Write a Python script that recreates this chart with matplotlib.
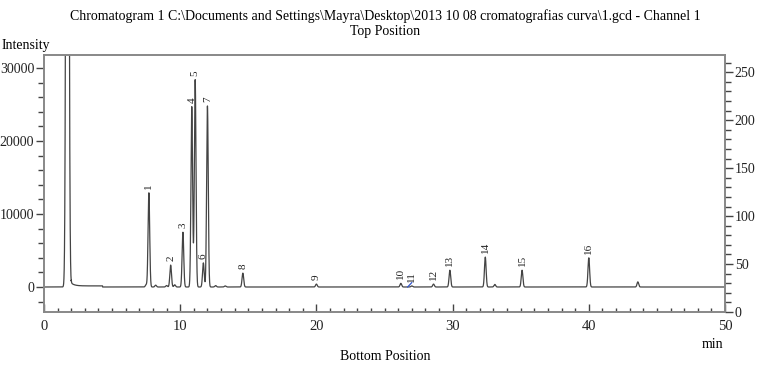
import numpy as np
import matplotlib
matplotlib.use("Agg")
import matplotlib.pyplot as plt
from matplotlib.ticker import MultipleLocator

plt.rcParams['font.family'] = ['Liberation Serif', 'DejaVu Serif']

# Retention times (min) and heights (intensity) of the numbered peaks
peak_ids = ["1", "2", "3", "4", "5", "6", "7", "8", "9", "10", "11", "12", "13", "14", "15", "16"]
peak_times = [7.7, 9.3, 10.2, 10.85, 11.1, 11.7, 12.0, 14.6, 20.0, 26.2, 27.0, 28.6, 29.8, 32.4, 35.1, 40.0]
peak_heights = [12900, 3000, 7500, 24700, 28400, 3300, 24800, 1900, 400, 500, 150, 400, 2300, 4100, 2300, 4000]

# Unlabelled minor peaks
minor_times = [7.5, 8.2, 9.0, 9.6, 12.6, 13.3, 33.1, 43.6]
minor_heights = [300, 250, 200, 300, 200, 150, 350, 700]

# Solvent front (off scale)
solvent_time = 1.72
solvent_height = 200000

title_line1 = "Chromatogram 1 C:\\Documents and Settings\\Mayra\\Desktop\\2013 10 08 cromatografias curva\\1.gcd - Channel 1"
title_line2 = "Top Position"

t = np.linspace(0, 50, 20001)
signal = np.zeros_like(t)
for rt, h in zip(peak_times + minor_times, peak_heights + minor_heights):
    signal += h * np.exp(-0.5 * ((t - rt) / 0.06) ** 2)
signal += solvent_height * np.exp(-0.5 * ((t - solvent_time) / 0.08) ** 2)
# solvent tail
signal += np.where(t > solvent_time, 1200 * np.exp(-(t - solvent_time) / 0.25), 0)
signal[(t > 2.0) & (t < 4.3)] += 150

fig = plt.figure(figsize=(7.57, 3.65), dpi=100)
ax = fig.add_axes([44 / 757, 53 / 365, (725 - 44) / 757, (312 - 55) / 365])
ax.plot(t, signal, color="#444444", lw=0.9)
ax.set_xlim(0, 50)
ax.set_ylim(-3425, 31780)

frame_color = "#888888"
for side in ["top", "left", "right", "bottom"]:
    ax.spines[side].set_color(frame_color)
    ax.spines[side].set_linewidth(1.2)

ax.xaxis.set_major_locator(MultipleLocator(10))
ax.xaxis.set_minor_locator(MultipleLocator(1))
ax.yaxis.set_major_locator(MultipleLocator(10000))
ax.yaxis.set_minor_locator(MultipleLocator(2000))
ax.tick_params(axis="x", which="major", direction="in", length=6, width=1, color="#444444",
               labelsize=10.5, pad=6, labelcolor="#222222")
ax.tick_params(axis="x", which="minor", direction="in", length=3, width=1, color="#444444")
ax.tick_params(axis="y", which="major", direction="out", length=6, width=1, color="#444444",
               labelsize=10, pad=1, labelcolor="#222222")
ax.tick_params(axis="y", which="minor", direction="out", length=4, width=1, color="#444444")
ax.set_yticks([0, 10000, 20000, 30000])
ax.set_yticklabels(["0", "10000", "20000", "30000"])

ax2 = ax.twinx()
ax2.set_ylim(0, 268)
ax2.yaxis.set_major_locator(MultipleLocator(50))
ax2.yaxis.set_minor_locator(MultipleLocator(10))
ax2.tick_params(axis="y", which="major", direction="out", length=6, width=1, color="#444444",
                labelsize=10, pad=1, labelcolor="#222222")
ax2.tick_params(axis="y", which="minor", direction="out", length=4, width=1, color="#444444")
for side in ["top", "left", "right", "bottom"]:
    ax2.spines[side].set_color(frame_color)
    ax2.spines[side].set_linewidth(1.2)

# Peak numbers above each apex
for pid, rt, h in zip(peak_ids, peak_times, peak_heights):
    ax.annotate(pid, xy=(rt, h), xytext=(0, 3), textcoords="offset points",
                rotation=90, ha="center", va="bottom", fontsize=8, color="#222222")
# integration marker of peak 11
i11 = peak_ids.index("11")
ax.plot([peak_times[i11] - 0.3, peak_times[i11]], [0, 600], color="#3355cc", lw=0.9)

fig.text(385 / 757, 1 - 16 / 365, title_line1, ha="center", va="center", fontsize=10)
fig.text(385 / 757, 1 - 31 / 365, title_line2, ha="center", va="center", fontsize=10)
fig.text(2 / 757, 1 - 45 / 365, "Intensity", ha="left", va="center", fontsize=10)
fig.text(385 / 757, 1 - 357 / 365, "Bottom Position", ha="center", va="center", fontsize=10)
fig.text(712 / 757, 1 - 345 / 365, "min", ha="center", va="center", fontsize=10)

fig.savefig("out.png", dpi=100)
